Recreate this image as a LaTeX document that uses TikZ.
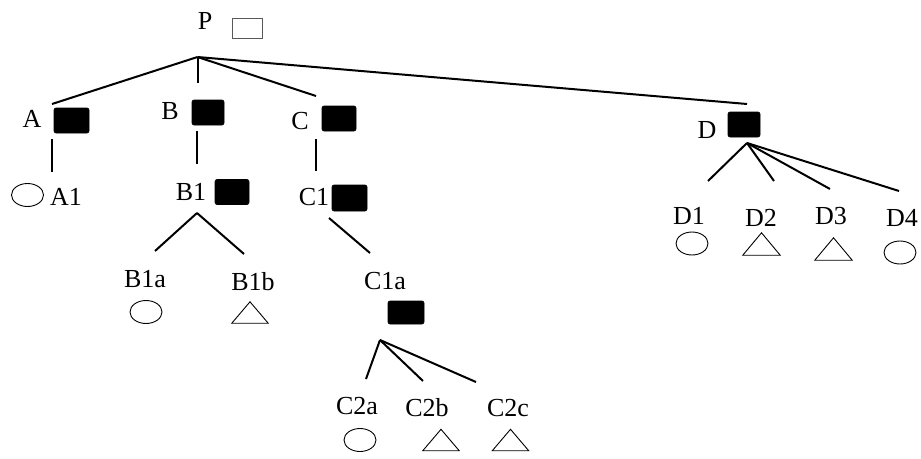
\documentclass[tikz,border=0pt]{standalone}
\usepackage{fontspec}
\setmainfont{Liberation Serif}
\usetikzlibrary{shapes.geometric}
\begin{document}
\begin{tikzpicture}[x=1pt,y=-1pt,
  lbl/.style={inner sep=0pt, font=\fontsize{26}{30}\selectfont},
  blk/.style={rectangle, fill=black, draw=black, line width=0.6pt, rounded corners=2pt,
              minimum width=34pt, minimum height=25pt, inner sep=0pt},
  hollow/.style={rectangle, draw=black!65, fill=white, line width=1pt,
              minimum width=30pt, minimum height=20pt, inner sep=0pt},
  oval/.style={ellipse, draw=black, line width=0.9pt, minimum width=32pt,
              minimum height=23pt, inner sep=0pt},
  trib/.style={rectangle, minimum width=36pt, minimum height=21pt, inner sep=0pt},
  edge/.style={line width=2pt}]
\useasboundingbox (0,0) rectangle (921,458);

% top level
\node[lbl] (P) at (205,21) {P};
\node[hollow] (Pbox) at (247,28) {};
\coordinate (root) at (197.5,57);

\node[lbl] (A) at (32,119) {A};
\node[blk, minimum width=35pt] (Abox) at (71.5,120.5) {};
\node[lbl] (B) at (170,111) {B};
\node[blk, minimum width=32pt] (Bbox) at (208,112.5) {};
\node[lbl] (C) at (300,121) {C};
\node[blk] (Cbox) at (339,118.5) {};
\node[lbl] (D) at (707,130) {D};
\node[blk, minimum width=32pt] (Dbox) at (744,124.5) {};

\coordinate (toA) at (52,104);
\coordinate (toB) at (197.5,83);
\coordinate (toC) at (316,96);
\coordinate (toD) at (747,104);
\foreach \t in {toA,toB,toC,toD} \draw[edge] (root) -- (\t);

% branch A
\coordinate (Adown) at (52,139);
\coordinate (A1up) at (52,172);
\draw[edge] (Adown) -- (A1up);
\node[oval] (A1s) at (27.5,195) {};
\node[lbl] (A1) at (66,197) {A1};

% branch B
\coordinate (Bdown) at (197,131);
\coordinate (B1up) at (197,164);
\draw[edge] (Bdown) -- (B1up);
\node[lbl] (B1) at (191,192) {B1};
\node[blk] (B1box) at (232,192) {};
\coordinate (B1split) at (197,213);
\coordinate (B1aup) at (155,251);
\coordinate (B1bup) at (244,254);
\draw[edge] (B1split) -- (B1aup);
\draw[edge] (B1split) -- (B1bup);
\node[lbl] (B1a) at (145,279) {B1a};
\node[oval] (B1as) at (146,312) {};
\node[lbl] (B1b) at (253,282) {B1b};
\node[trib] (B1bs) at (250,312.5) {};

% branch C
\coordinate (Cdown) at (316,139);
\coordinate (C1up) at (316,171);
\draw[edge] (Cdown) -- (C1up);
\node[lbl] (C1) at (314,197) {C1};
\node[blk, minimum width=35pt, minimum height=26pt] (C1box) at (349.5,198) {};
\coordinate (C1down) at (329,218);
\coordinate (C1aup) at (370,253);
\draw[edge] (C1down) -- (C1aup);
\node[lbl] (C1a) at (385,281) {C1a};
\node[blk, minimum width=36pt, minimum height=23pt] (C1abox) at (406,312.5) {};
\coordinate (C1asplit) at (380,340);
\coordinate (C2aup) at (366,379);
\coordinate (C2bup) at (423,381);
\coordinate (C2cup) at (476,382);
\foreach \t in {C2aup,C2bup,C2cup} \draw[edge] (C1asplit) -- (\t);
\node[lbl] (C2a) at (357,406) {C2a};
\node[oval] (C2as) at (360,440) {};
\node[lbl] (C2b) at (427,408) {C2b};
\node[trib] (C2bs) at (441,440) {};
\node[lbl] (C2c) at (508,408) {C2c};
\node[trib] (C2cs) at (510.5,440) {};

% branch D
\coordinate (Dsplit) at (747,143);
\coordinate (D1up) at (708,181);
\coordinate (D2up) at (774,181);
\coordinate (D3up) at (830,189);
\coordinate (D4up) at (899,191);
\foreach \t in {D1up,D2up,D3up,D4up} \draw[edge] (Dsplit) -- (\t);
\node[lbl] (D1) at (689,216) {D1};
\node[oval] (D1s) at (692,243.5) {};
\node[lbl] (D2) at (761,218) {D2};
\node[trib, minimum width=37pt, minimum height=22pt] (D2s) at (761.5,244) {};
\node[lbl] (D3) at (831,216) {D3};
\node[trib, minimum width=37pt, minimum height=22pt] (D3s) at (833.5,249) {};
\node[lbl] (D4) at (902,218) {D4};
\node[oval] (D4s) at (900,252.5) {};

% triangle outlines drawn on their frames
\foreach \n in {B1bs,C2bs,C2cs,D2s,D3s}
  \draw[line width=0.9pt, line join=miter]
    (\n.south west) -- (\n.south east) -- (\n.north) -- cycle;
\end{tikzpicture}
\end{document}
